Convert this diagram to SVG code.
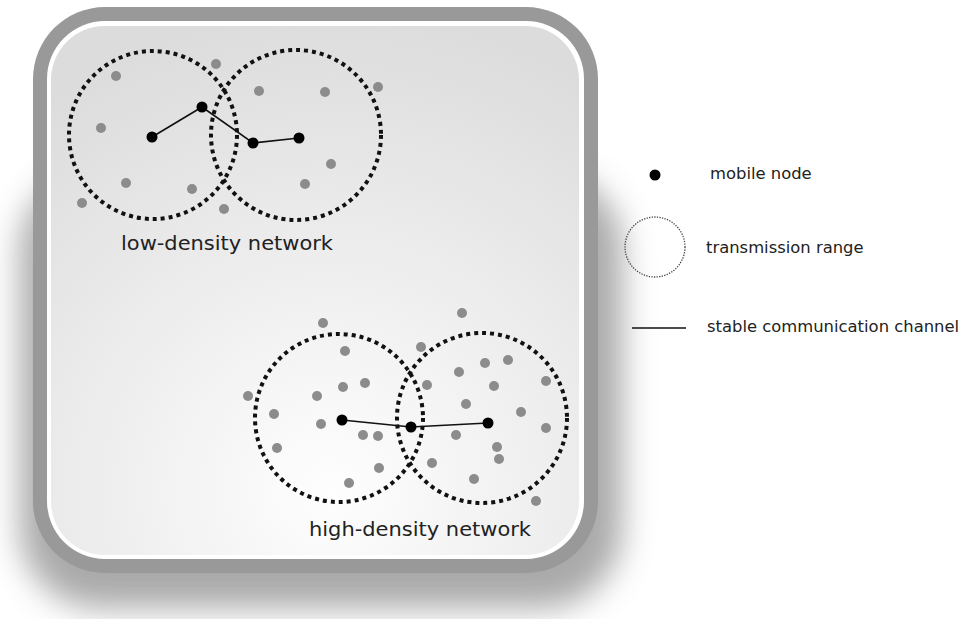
<svg xmlns="http://www.w3.org/2000/svg" width="963" height="619" viewBox="0 0 963 619">
<defs>
<radialGradient id="bg" cx="330" cy="490" r="480" gradientUnits="userSpaceOnUse">
<stop offset="0" stop-color="#fefefe"/>
<stop offset="1" stop-color="#dcdcdc"/>
</radialGradient>
<filter id="sh" x="-20%" y="-20%" width="140%" height="140%">
<feGaussianBlur stdDeviation="16"/>
</filter>
<style>
.range{fill:none;stroke:#111;stroke-width:4;stroke-dasharray:4 4}
.node{fill:#000}
.other{fill:#8c8c8c}
.link{stroke:#111;stroke-width:1.6;fill:none}
.lbl{font-family:"DejaVu Sans",sans-serif;font-size:20px;fill:#222}
.leg{font-family:"DejaVu Sans",sans-serif;font-size:16.4px;fill:#222}
</style>
</defs>
<rect width="963" height="619" fill="#fff"/>
<!-- frame -->
<g id="frame">
<rect x="20" y="170" width="602" height="438" rx="80" fill="#555" opacity="0.5" filter="url(#sh)"/>
<rect x="33" y="7" width="565" height="566" rx="72" fill="#999"/>
<rect x="47" y="21" width="537" height="538" rx="58" fill="#fff"/>
<rect x="51" y="26" width="528" height="529" rx="54" fill="url(#bg)"/>
</g>
<!-- low-density network -->
<g id="low-density">
<circle class="range" cx="153" cy="135" r="84"/>
<circle class="range" cx="296" cy="135" r="85"/>
<g class="other">
<circle cx="116" cy="76" r="5"/><circle cx="216" cy="64" r="5"/><circle cx="101" cy="128" r="5"/>
<circle cx="126" cy="183" r="5"/><circle cx="192" cy="189" r="5"/><circle cx="82" cy="203" r="5"/>
<circle cx="224" cy="209" r="5"/><circle cx="259" cy="91" r="5"/><circle cx="325" cy="92" r="5"/>
<circle cx="378" cy="87" r="5"/><circle cx="331" cy="164" r="5"/><circle cx="305" cy="184" r="5"/>
</g>
<polyline class="link" points="152,137 202,107 253,143 299,138"/>
<g class="node">
<circle cx="152" cy="137" r="5.5"/><circle cx="202" cy="107" r="5.5"/><circle cx="253" cy="143" r="5.5"/><circle cx="299" cy="138" r="5.5"/>
</g>
<text class="lbl" x="121" y="250" textLength="212" lengthAdjust="spacingAndGlyphs">low-density network</text>
</g>
<!-- high-density network -->
<g id="high-density">
<circle class="range" cx="339" cy="418" r="84"/>
<circle class="range" cx="482" cy="418" r="85"/>
<g class="other">
<circle cx="323" cy="323" r="5"/><circle cx="462" cy="313" r="5"/><circle cx="345" cy="351" r="5"/>
<circle cx="421" cy="347" r="5"/><circle cx="248" cy="396" r="5"/><circle cx="274" cy="414" r="5"/>
<circle cx="277" cy="448" r="5"/><circle cx="317" cy="396" r="5"/><circle cx="343" cy="387" r="5"/>
<circle cx="365" cy="383" r="5"/><circle cx="321" cy="424" r="5"/><circle cx="363" cy="435" r="5"/>
<circle cx="378" cy="436" r="5"/><circle cx="379" cy="468" r="5"/><circle cx="349" cy="483" r="5"/>
<circle cx="427" cy="385" r="5"/><circle cx="459" cy="372" r="5"/><circle cx="485" cy="363" r="5"/>
<circle cx="508" cy="360" r="5"/><circle cx="546" cy="381" r="5"/><circle cx="494" cy="386" r="5"/>
<circle cx="466" cy="404" r="5"/><circle cx="521" cy="412" r="5"/><circle cx="546" cy="428" r="5"/>
<circle cx="456" cy="435" r="5"/><circle cx="497" cy="447" r="5"/><circle cx="499" cy="459" r="5"/>
<circle cx="432" cy="463" r="5"/><circle cx="474" cy="479" r="5"/><circle cx="536" cy="501" r="5"/>
</g>
<polyline class="link" points="342,420 411,427 488,423"/>
<g class="node">
<circle cx="342" cy="420" r="5.5"/><circle cx="411" cy="427" r="5.5"/><circle cx="488" cy="423" r="5.5"/>
</g>
<text class="lbl" x="309" y="536" textLength="222" lengthAdjust="spacingAndGlyphs">high-density network</text>
</g>
<!-- legend -->
<g id="legend-node">
<circle cx="655" cy="175" r="5.5" fill="#000"/>
<text class="leg" x="710" y="179">mobile node</text>
</g>
<g id="legend-range">
<circle cx="655" cy="247" r="30" fill="none" stroke="#444" stroke-width="1.3" stroke-dasharray="1.3 1.3"/>
<text class="leg" x="706" y="253">transmission range</text>
</g>
<g id="legend-channel">
<line x1="632" y1="328" x2="686" y2="328" stroke="#111" stroke-width="1.6"/>
<text class="leg" x="707" y="332">stable communication channel</text>
</g>
</svg>
